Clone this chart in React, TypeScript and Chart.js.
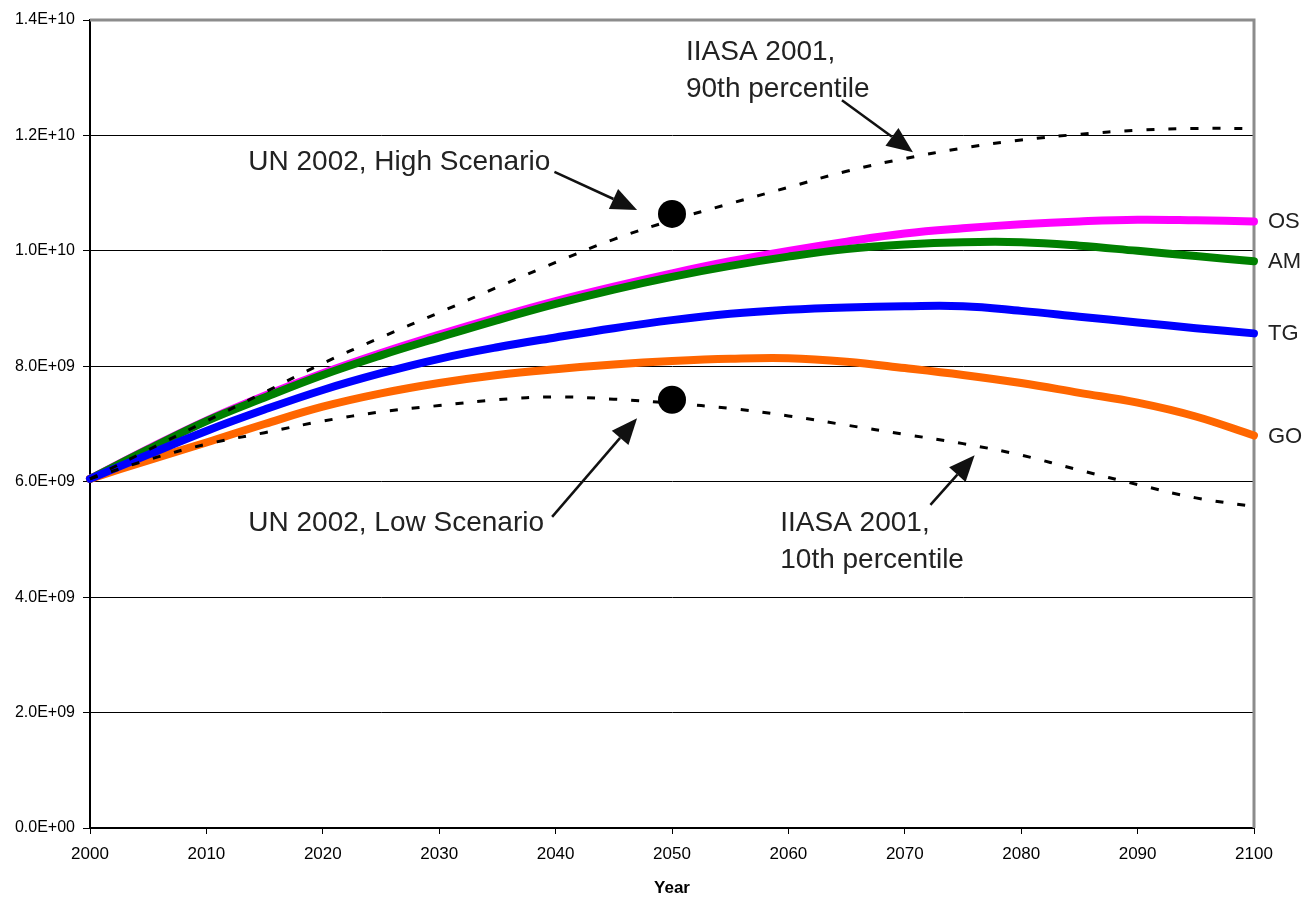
import React, { useEffect, useRef } from 'react';
import { Chart, registerables } from 'chart.js';

Chart.register(...registerables);

// ---- data (values in billions of people) ----
const years = [2000, 2005, 2010, 2015, 2020, 2025, 2030, 2035, 2040, 2045, 2050, 2055, 2060, 2065, 2070, 2075, 2080, 2085, 2090, 2095, 2100];

const osValues = [6.05, 6.57, 7.06, 7.49, 7.88, 8.23, 8.55, 8.85, 9.13, 9.38, 9.61, 9.82, 10.0, 10.16, 10.3, 10.39, 10.46, 10.51, 10.54, 10.53, 10.51];
const amValues = [6.05, 6.56, 7.05, 7.46, 7.85, 8.19, 8.5, 8.8, 9.08, 9.33, 9.55, 9.74, 9.9, 10.03, 10.11, 10.15, 10.15, 10.09, 10.0, 9.91, 9.82];
const tgValues = [6.05, 6.47, 6.88, 7.25, 7.59, 7.88, 8.13, 8.33, 8.5, 8.66, 8.8, 8.91, 8.98, 9.02, 9.04, 9.04, 8.96, 8.86, 8.76, 8.66, 8.57];
const goValues = [6.05, 6.37, 6.68, 7.0, 7.3, 7.53, 7.71, 7.85, 7.95, 8.03, 8.09, 8.13, 8.14, 8.08, 7.97, 7.85, 7.71, 7.54, 7.37, 7.13, 6.8];
const iiasa90Values = [6.05, 6.55, 7.05, 7.55, 8.05, 8.5, 8.93, 9.37, 9.8, 10.2, 10.53, 10.82, 11.1, 11.38, 11.6, 11.78, 11.92, 12.02, 12.09, 12.12, 12.12];
const iiasa10Values = [6.05, 6.38, 6.65, 6.85, 7.05, 7.21, 7.32, 7.42, 7.47, 7.43, 7.36, 7.27, 7.14, 6.98, 6.82, 6.66, 6.46, 6.2, 5.95, 5.72, 5.57];

const unYear = 2050;
const unValues = [10.64, 7.42]; // high, low scenario

const endLabels = ['OS', 'AM', 'TG', 'GO'];
const yTicks = [0, 2e9, 4e9, 6e9, 8e9, 1e10, 1.2e10, 1.4e10];
const xTickYears = [2000, 2010, 2020, 2030, 2040, 2050, 2060, 2070, 2080, 2090, 2100];

// annotation anchors in data space (year, billions)
const annotationTexts = [
  { lines: ['UN 2002, High Scenario'], year: 2013.6, value: 11.4 },
  { lines: ['UN 2002, Low Scenario'], year: 2013.6, value: 5.15 },
  { lines: ['IIASA 2001,', '90th percentile'], year: 2051.2, value: 13.31 },
  { lines: ['IIASA 2001,', '10th percentile'], year: 2059.3, value: 5.15 },
];
const annotationArrows = [
  { fromYear: 2039.9, fromValue: 11.37, toYear: 2047.0, toValue: 10.71 },
  { fromYear: 2039.7, fromValue: 5.39, toYear: 2047.0, toValue: 7.1 },
  { fromYear: 2064.6, fromValue: 12.61, toYear: 2070.7, toValue: 11.71 },
  { fromYear: 2072.2, fromValue: 5.6, toYear: 2076.0, toValue: 6.46 },
];

const B = 1e9;
const toPoints = (vals: number[]) => years.map((y, i) => ({ x: y, y: vals[i] * B }));

const FONT = '"Liberation Sans", Arial, sans-serif';
const TEXT_COLOR = '#222';

function fmtSci(v: number): string {
  if (v === 0) return '0.0E+00';
  const e = Math.floor(Math.log10(v) + 1e-9);
  const m = v / Math.pow(10, e);
  return `${m.toFixed(1)}E+${String(e).padStart(2, '0')}`;
}

const overlayPlugin = {
  id: 'overlay',
  beforeDatasetsDraw(chart: any) {
    const { ctx, chartArea } = chart;
    const { left, right, top, bottom } = chartArea;
    ctx.save();
    ctx.strokeStyle = '#8c8c8c';
    ctx.lineWidth = 3;
    ctx.beginPath();
    ctx.moveTo(left, top);
    ctx.lineTo(right, top);
    ctx.lineTo(right, bottom);
    ctx.stroke();
    ctx.restore();
  },
  afterDatasetsDraw(chart: any) {
    const { ctx, chartArea } = chart;
    const xs = chart.scales.x;
    const ys = chart.scales.y;
    ctx.save();
    // arrows
    ctx.strokeStyle = '#111';
    ctx.fillStyle = '#111';
    annotationArrows.forEach((a) => {
      const x1 = xs.getPixelForValue(a.fromYear);
      const y1 = ys.getPixelForValue(a.fromValue * B);
      const x2 = xs.getPixelForValue(a.toYear);
      const y2 = ys.getPixelForValue(a.toValue * B);
      const ang = Math.atan2(y2 - y1, x2 - x1);
      const headLen = 26;
      const headW = 11;
      const bx = x2 - headLen * Math.cos(ang);
      const by = y2 - headLen * Math.sin(ang);
      ctx.lineWidth = 2.5;
      ctx.beginPath();
      ctx.moveTo(x1, y1);
      ctx.lineTo(bx, by);
      ctx.stroke();
      ctx.beginPath();
      ctx.moveTo(x2, y2);
      ctx.lineTo(bx + headW * Math.sin(ang), by - headW * Math.cos(ang));
      ctx.lineTo(bx - headW * Math.sin(ang), by + headW * Math.cos(ang));
      ctx.closePath();
      ctx.fill();
    });
    // annotation texts
    ctx.fillStyle = TEXT_COLOR;
    ctx.font = `28px ${FONT}`;
    ctx.textAlign = 'left';
    ctx.textBaseline = 'alphabetic';
    annotationTexts.forEach((t) => {
      const x = xs.getPixelForValue(t.year);
      const y = ys.getPixelForValue(t.value * B);
      t.lines.forEach((line, i) => ctx.fillText(line, x, y + i * 37));
    });
    // end labels
    const ends = [osValues, amValues, tgValues, goValues];
    ctx.font = `22px ${FONT}`;
    ctx.textBaseline = 'middle';
    endLabels.forEach((lab, i) => {
      const vals = ends[i];
      const y = ys.getPixelForValue(vals[vals.length - 1] * B);
      ctx.fillText(lab, chartArea.right + 14, y + 1);
    });
    // axis title
    ctx.font = `bold 17px ${FONT}`;
    ctx.textAlign = 'center';
    ctx.fillStyle = '#000';
    ctx.fillText('Year', (chartArea.left + chartArea.right) / 2, 888);
    ctx.restore();
  },
};

export default function App() {
  const ref = useRef<HTMLCanvasElement | null>(null);

  useEffect(() => {
    document.body.style.margin = '0';
    const canvas = ref.current;
    if (!canvas) return;
    const lineStyle = (color: string, order: number) => ({
      borderColor: color,
      backgroundColor: color,
      borderWidth: 8,
      borderCapStyle: 'round' as const,
      borderJoinStyle: 'round' as const,
      pointRadius: 0,
      tension: 0.4,
      fill: false,
      clip: false as any,
      order,
    });
    const dottedStyle = (order: number) => ({
      borderColor: '#000',
      backgroundColor: '#000',
      borderWidth: 3,
      borderDash: [8, 14],
      borderCapStyle: 'butt' as const,
      pointRadius: 0,
      tension: 0.4,
      fill: false,
      clip: false as any,
      order,
    });

    const chart = new Chart(canvas, {
      type: 'line',
      data: {
        datasets: [
          { label: 'OS', data: toPoints(osValues), ...lineStyle('#ff00ff', 6) },
          { label: 'AM', data: toPoints(amValues), ...lineStyle('#008000', 5) },
          { label: 'GO', data: toPoints(goValues), ...lineStyle('#ff6600', 4) },
          { label: 'TG', data: toPoints(tgValues), ...lineStyle('#0000ff', 3) },
          { label: 'IIASA 2001, 90th percentile', data: toPoints(iiasa90Values), ...dottedStyle(2) },
          { label: 'IIASA 2001, 10th percentile', data: toPoints(iiasa10Values), ...dottedStyle(1) },
          {
            label: 'UN 2002',
            data: unValues.map((v) => ({ x: unYear, y: v * B })),
            showLine: false,
            pointRadius: 14,
            pointBackgroundColor: '#000',
            pointBorderColor: '#000',
            pointBorderWidth: 0,
            order: 0,
          } as any,
        ],
      },
      options: {
        responsive: false,
        animation: false,
        events: [],
        layout: { padding: { left: 0, right: 60, top: 20, bottom: 0 } },
        plugins: {
          legend: { display: false },
          tooltip: { enabled: false },
          title: { display: false },
        },
        scales: {
          x: {
            type: 'linear',
            min: 2000,
            max: 2100,
            afterFit: (s: any) => { s.height = 69; },
            afterBuildTicks: (s: any) => { s.ticks = xTickYears.map((v) => ({ value: v })); },
            grid: {
              drawOnChartArea: false,
              drawTicks: true,
              tickLength: 6,
              color: '#000',
              lineWidth: 1,
            },
            border: { display: true, color: '#000', width: 2 },
            ticks: {
              autoSkip: false,
              maxRotation: 0,
              padding: 10,
              color: '#000',
              font: { family: FONT, size: 17 },
              callback: (v: any) => String(v),
            },
          },
          y: {
            type: 'linear',
            min: 0,
            max: 1.4e10,
            afterFit: (s: any) => { s.width = 90; },
            afterBuildTicks: (s: any) => { s.ticks = yTicks.map((v) => ({ value: v })); },
            grid: {
              color: '#000',
              lineWidth: 1,
              drawTicks: true,
              tickLength: 7,
            },
            border: { display: true, color: '#000', width: 2 },
            ticks: {
              padding: 8,
              color: '#000',
              font: { family: FONT, size: 16 },
              callback: (v: any) => fmtSci(Number(v)),
            },
          },
        },
      },
      plugins: [overlayPlugin],
    });
    return () => chart.destroy();
  }, []);

  return (
    <div style={{ position: 'fixed', left: 0, top: 0, width: 1314, height: 897, background: '#fff' }}>
      <canvas ref={ref} width={1314} height={897} style={{ display: 'block' }} />
    </div>
  );
}
